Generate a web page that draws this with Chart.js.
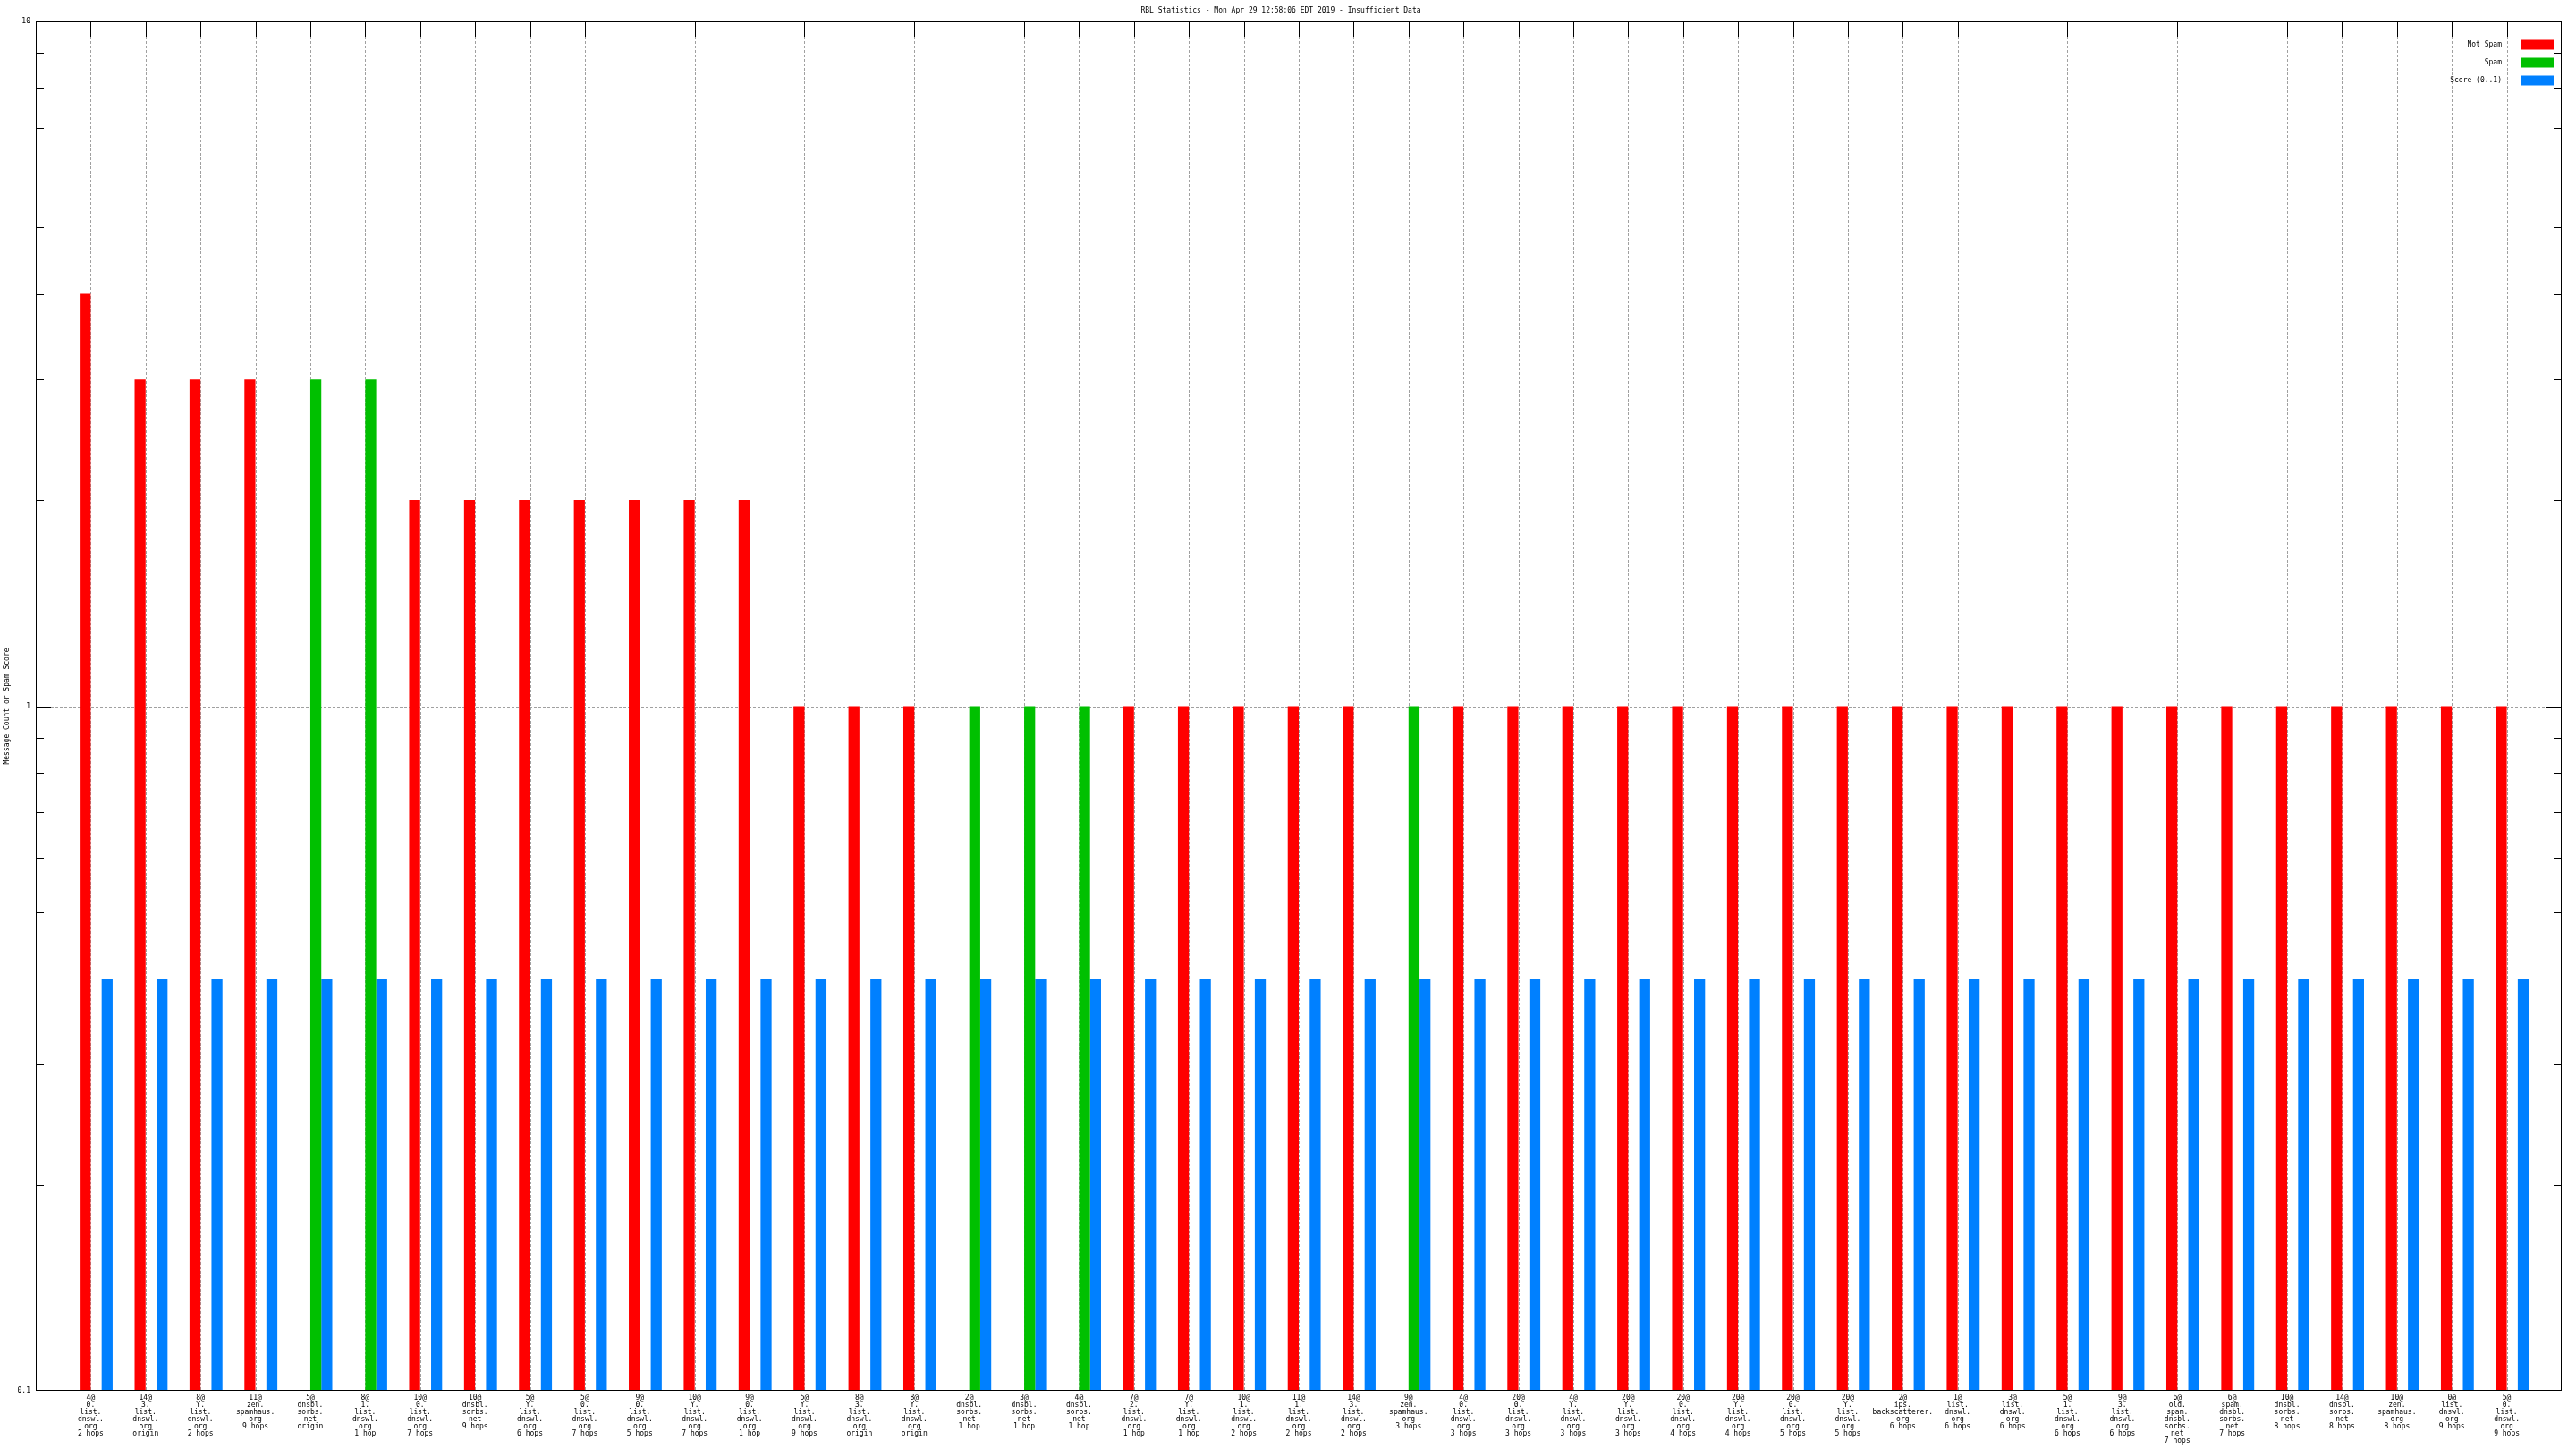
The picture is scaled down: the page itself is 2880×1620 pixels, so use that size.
<!DOCTYPE html>
<html><head><meta charset="utf-8">
<script src="https://cdn.jsdelivr.net/npm/chart.js@4/dist/chart.umd.min.js"></script>
<style>html,body{margin:0;padding:0;background:#fff}#wrap{width:2880px;height:1620px}</style>
</head><body><div id="wrap"><canvas id="c" width="2880" height="1620"></canvas></div>
<script>
const titleText = "RBL Statistics - Mon Apr 29 12:58:06 EDT 2019 - Insufficient Data";
const yAxisTitle = "Message Count or Spam Score";
const seriesNames = ["Not Spam", "Spam", "Score (0..1)"];
const categories = [
  "4@|0.|list.|dnswl.|org|2 hops",
  "14@|3.|list.|dnswl.|org|origin",
  "8@|Y.|list.|dnswl.|org|2 hops",
  "11@|zen.|spamhaus.|org|9 hops",
  "5@|dnsbl.|sorbs.|net|origin",
  "8@|1.|list.|dnswl.|org|1 hop",
  "10@|0.|list.|dnswl.|org|7 hops",
  "10@|dnsbl.|sorbs.|net|9 hops",
  "5@|Y.|list.|dnswl.|org|6 hops",
  "5@|0.|list.|dnswl.|org|7 hops",
  "9@|0.|list.|dnswl.|org|5 hops",
  "10@|Y.|list.|dnswl.|org|7 hops",
  "9@|0.|list.|dnswl.|org|1 hop",
  "5@|Y.|list.|dnswl.|org|9 hops",
  "8@|3.|list.|dnswl.|org|origin",
  "8@|Y.|list.|dnswl.|org|origin",
  "2@|dnsbl.|sorbs.|net|1 hop",
  "3@|dnsbl.|sorbs.|net|1 hop",
  "4@|dnsbl.|sorbs.|net|1 hop",
  "7@|2.|list.|dnswl.|org|1 hop",
  "7@|Y.|list.|dnswl.|org|1 hop",
  "10@|1.|list.|dnswl.|org|2 hops",
  "11@|1.|list.|dnswl.|org|2 hops",
  "14@|3.|list.|dnswl.|org|2 hops",
  "9@|zen.|spamhaus.|org|3 hops",
  "4@|0.|list.|dnswl.|org|3 hops",
  "20@|0.|list.|dnswl.|org|3 hops",
  "4@|Y.|list.|dnswl.|org|3 hops",
  "20@|Y.|list.|dnswl.|org|3 hops",
  "20@|0.|list.|dnswl.|org|4 hops",
  "20@|Y.|list.|dnswl.|org|4 hops",
  "20@|0.|list.|dnswl.|org|5 hops",
  "20@|Y.|list.|dnswl.|org|5 hops",
  "2@|ips.|backscatterer.|org|6 hops",
  "1@|list.|dnswl.|org|6 hops",
  "3@|list.|dnswl.|org|6 hops",
  "5@|1.|list.|dnswl.|org|6 hops",
  "9@|3.|list.|dnswl.|org|6 hops",
  "6@|old.|spam.|dnsbl.|sorbs.|net|7 hops",
  "6@|spam.|dnsbl.|sorbs.|net|7 hops",
  "10@|dnsbl.|sorbs.|net|8 hops",
  "14@|dnsbl.|sorbs.|net|8 hops",
  "10@|zen.|spamhaus.|org|8 hops",
  "0@|list.|dnswl.|org|9 hops",
  "5@|0.|list.|dnswl.|org|9 hops"
];
const notSpam = [4,3,3,3,0,0,2,2,2,2,2,2,2,1,1,1,0,0,0,1,1,1,1,1,0,1,1,1,1,1,1,1,1,1,1,1,1,1,1,1,1,1,1,1,1];
const spam    = [0,0,0,0,3,3,0,0,0,0,0,0,0,0,0,0,1,1,1,0,0,0,0,0,1,0,0,0,0,0,0,0,0,0,0,0,0,0,0,0,0,0,0,0,0];
const score   = [0.4,0.4,0.4,0.4,0.4,0.4,0.4,0.4,0.4,0.4,0.4,0.4,0.4,0.4,0.4,0.4,0.4,0.4,0.4,0.4,0.4,0.4,0.4,0.4,0.4,0.4,0.4,0.4,0.4,0.4,0.4,0.4,0.4,0.4,0.4,0.4,0.4,0.4,0.4,0.4,0.4,0.4,0.4,0.4,0.4];
const yTickValues = [0.1,0.2,0.3,0.4,0.5,0.6,0.7,0.8,0.9,1,2,3,4,5,6,7,8,9,10];
const yTickLabels = ["0.1","1","10"];
const yMajor = [0.1,1,10];

const FONT = "DejaVu Sans Mono";
// pad with one empty slot at each end (gnuplot x range -1..N)
const pad = arr => [null].concat(arr.map(v => (v > 0 ? v : null)), [null]);
const labels = [""].concat(categories.map(s => s.split("|")), [""]);

const frame = {
  id: "frame",
  beforeDatasetsDraw(chart) {
    const {ctx, chartArea: a, scales: {x, y}} = chart;
    ctx.save();
    ctx.lineWidth = 1;
    ctx.strokeStyle = "#a0a0a0";
    ctx.setLineDash([3, 2]);
    const seg = (x1, y1, x2, y2) => { ctx.beginPath(); ctx.moveTo(x1, y1); ctx.lineTo(x2, y2); ctx.stroke(); };
    for (let i = 1; i <= categories.length; i++) {
      const px = Math.round(x.getPixelForValue(i)) + 0.5;
      seg(px, a.top + 17, px, a.bottom);
    }
    const p1 = Math.round(y.getPixelForValue(1)) + 0.5;
    seg(a.left + 17, p1, a.right - 17, p1);
    ctx.setLineDash([]);
    ctx.strokeStyle = "#000";
    yTickValues.forEach(v => {
      if (v === yTickValues[0] || v === yTickValues[yTickValues.length - 1]) return;
      const len = yMajor.includes(v) ? 17 : 9;
      const py = Math.round(y.getPixelForValue(v)) + 0.5;
      seg(a.left, py, a.left + len, py);
      seg(a.right, py, a.right - len, py);
    });
    for (let i = 1; i <= categories.length; i++) {
      const px = Math.round(x.getPixelForValue(i)) + 0.5;
      seg(px, a.top, px, a.top + 17);
    }
    ctx.restore();
  },
  afterDatasetsDraw(chart) {
    const {ctx, chartArea: a} = chart;
    ctx.save();
    ctx.strokeStyle = "#000";
    ctx.lineWidth = 1;
    ctx.strokeRect(Math.round(a.left) + 0.5, Math.round(a.top) + 0.5, Math.round(a.right - a.left) - 1, Math.round(a.bottom - a.top) - 1);
    // legend
    ctx.font = "8px '" + FONT + "'";
    ctx.textAlign = "right";
    ctx.textBaseline = "middle";
    const ds = chart.data.datasets.filter(d => d.label);
    ds.forEach((d, k) => {
      const cy = a.top + 26 + k * 20;
      ctx.fillStyle = "#000";
      ctx.fillText(d.label, a.right - 67, cy);
      ctx.fillStyle = d.backgroundColor;
      ctx.fillRect(a.right - 46, cy - 5.5, 37, 11);
    });
    ctx.restore();
  }
};

new Chart(document.getElementById("c"), {
  type: "bar",
  data: {
    labels: labels,
    datasets: [
      {label: "", data: pad(new Array(categories.length).fill(0)), backgroundColor: "rgba(0,0,0,0)"},
      {label: seriesNames[0], data: pad(notSpam), backgroundColor: "#ff0000"},
      {label: seriesNames[1], data: pad(spam), backgroundColor: "#00c000"},
      {label: seriesNames[2], data: pad(score), backgroundColor: "#0080ff"}
    ]
  },
  options: {
    responsive: false,
    animation: false,
    devicePixelRatio: 1,
    layout: {padding: {left: 0, right: 16, top: 0, bottom: 0}},
    datasets: {bar: {categoryPercentage: 0.8, barPercentage: 1.0, borderWidth: 0}},
    plugins: {
      legend: {display: false},
      tooltip: {enabled: false},
      title: {
        display: true, text: titleText, color: "#000",
        font: {family: FONT, size: 8, lineHeight: 1, weight: "normal"},
        padding: {top: 8, bottom: 8}
      }
    },
    scales: {
      x: {
        type: "category",
        offset: false,
        grid: {display: false, drawTicks: false},
        border: {display: false},
        afterFit: s => { s.height = 65; },
        ticks: {
          autoSkip: false, maxRotation: 0, minRotation: 0, padding: 4, color: "#000",
          font: {family: FONT, size: 8, lineHeight: 1}
        }
      },
      y: {
        type: "logarithmic",
        min: 0.1, max: 10,
        grid: {display: false, drawTicks: false},
        border: {display: false},
        afterFit: s => { s.width = 40; },
        afterBuildTicks: s => { s.ticks = yTickValues.map(v => ({value: v})); },
        title: {
          display: true, text: yAxisTitle, color: "#000",
          font: {family: FONT, size: 8, lineHeight: 1},
          padding: {top: 4, bottom: 0}
        },
        ticks: {
          autoSkip: false, padding: 6, color: "#000",
          font: {family: FONT, size: 8, lineHeight: 1},
          callback: v => { const s = String(Number(v.toPrecision(3))); return yTickLabels.includes(s) ? s : ""; }
        }
      }
    }
  },
  plugins: [frame]
});
</script></body></html>
